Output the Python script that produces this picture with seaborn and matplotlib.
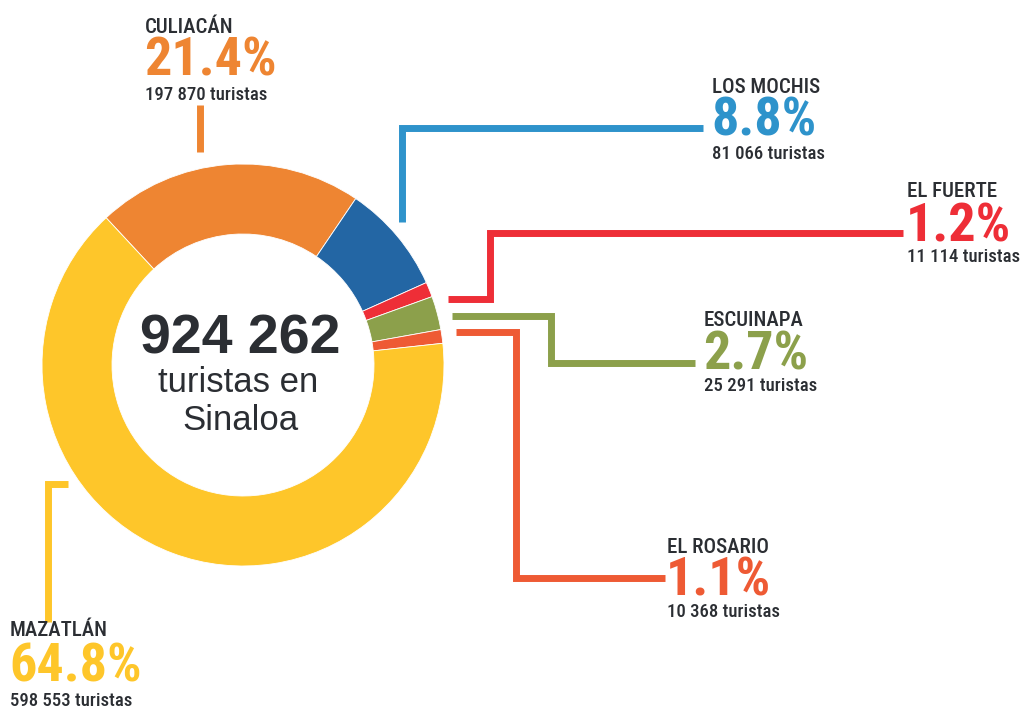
import matplotlib
matplotlib.use("Agg")
import matplotlib.pyplot as plt
import seaborn as sns

sns.set_theme(style="white")
plt.rcParams["font.family"] = ["Roboto Condensed", "Archivo Narrow", "Liberation Sans", "DejaVu Sans"]

# Data
cities = ["CULIACÁN", "LOS MOCHIS", "EL FUERTE", "ESCUINAPA", "EL ROSARIO", "MAZATLÁN"]
shares = [21.4, 8.8, 1.2, 2.7, 1.1, 64.8]
tourists = ["197 870", "81 066", "11 114", "25 291", "10 368", "598 553"]
total_label = "924 262"

# Colours
wedge_colors = ["#EE8532", "#2366A4", "#EE2E37", "#8CA04B", "#EE5A34", "#FEC62A"]
label_colors = ["#EE8532", "#2E93CB", "#EE2E37", "#8CA04B", "#EE5A34", "#FEC62A"]
dark = "#2B2E33"

# Layout in pixel coords (y from top): label x, name / pct / count baselines
label_pos = [
    (145, 33, 76, 100),
    (712, 93, 135, 159),
    (907, 197, 242, 262),
    (704, 326, 370, 391),
    (667, 553, 595, 617),
    (10, 636, 682, 706),
]
# connector polylines
connectors = [
    [(200, 105), (200, 152)],
    [(401.5, 222), (401.5, 127.5), (703, 127.5)],
    [(448, 299), (489.5, 299), (489.5, 233), (903, 233)],
    [(452, 315.5), (551, 315.5), (551, 363), (695, 363)],
    [(456, 332), (516, 332), (516, 578), (665, 578)],
    [(68, 484), (47.5, 484), (47.5, 622)],
]

W, H = 1023, 710
fig = plt.figure(figsize=(W / 100, H / 100), dpi=100)
ax = fig.add_axes([0, 0, 1, 1])

# small slices should end ~6 degrees above horizontal on the right
end_angle = 6.2
start = end_angle + 3.6 * sum(shares[:5])

# y axis is inverted below, so angles are mirrored: counterclock in data = clockwise on screen
ax.pie(
    shares,
    colors=sns.color_palette(wedge_colors),
    startangle=-start,
    counterclock=True,
    radius=201,
    center=(243, 365),
    wedgeprops=dict(width=70, edgecolor="white", linewidth=0.6),
)
ax.set_xlim(0, W)
ax.set_ylim(H, 0)
ax.set_aspect("equal")
ax.axis("off")

for pts, col in zip(connectors, label_colors):
    xs, ys = zip(*pts)
    ax.plot(xs, ys, color=col, lw=5.0, solid_capstyle="butt", solid_joinstyle="miter")

for name, pct, n, col, (x, yn, yp, yc) in zip(cities, shares, tourists, label_colors, label_pos):
    ax.text(x, yn, name, fontsize=15, fontweight="medium", color=dark,
            va="baseline", ha="left")
    ax.text(x - 1, yp, f"{pct:.1f}%", fontsize=39, fontweight="bold", color=col,
            va="baseline", ha="left")
    ax.text(x, yc, f"{n} turistas", fontsize=13.5, fontweight="medium", color=dark,
            va="baseline", ha="left")

center_font = ["Liberation Sans", "DejaVu Sans"]
ax.text(240, 353, total_label, fontsize=40, fontweight="bold", color=dark,
        ha="center", va="baseline", family=center_font)
ax.text(238, 392, "turistas en", fontsize=25, color=dark, ha="center", va="baseline",
        family=center_font)
ax.text(240, 430, "Sinaloa", fontsize=25, color=dark, ha="center", va="baseline",
        family=center_font)

fig.savefig("out.png", dpi=100)
